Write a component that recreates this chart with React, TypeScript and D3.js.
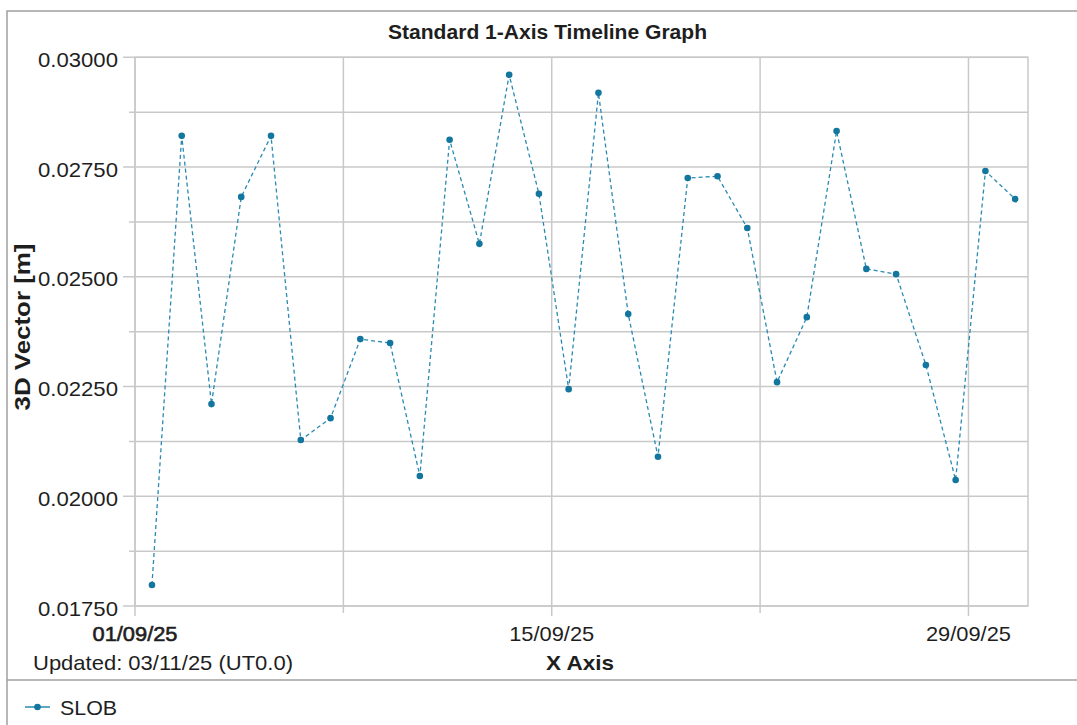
import React from "react";
import * as d3 from "d3";

const dates: string[] = [
  "2025-09-01T13:40Z", "2025-09-02T13:40Z", "2025-09-03T13:40Z", "2025-09-04T13:40Z", "2025-09-05T13:40Z",
  "2025-09-06T13:40Z", "2025-09-07T13:40Z", "2025-09-08T13:40Z", "2025-09-09T13:40Z", "2025-09-10T13:40Z",
  "2025-09-11T13:40Z", "2025-09-12T13:40Z", "2025-09-13T13:40Z", "2025-09-14T13:40Z", "2025-09-15T13:40Z",
  "2025-09-16T13:40Z", "2025-09-17T13:40Z", "2025-09-18T13:40Z", "2025-09-19T13:40Z", "2025-09-20T13:40Z",
  "2025-09-21T13:40Z", "2025-09-22T13:40Z", "2025-09-23T13:40Z", "2025-09-24T13:40Z", "2025-09-25T13:40Z",
  "2025-09-26T13:40Z", "2025-09-27T13:40Z", "2025-09-28T13:40Z", "2025-09-29T13:40Z", "2025-09-30T13:40Z",
];
const slobValues: number[] = [
  0.01798, 0.02821, 0.0221, 0.02682, 0.02821, 0.02128, 0.02178, 0.02358, 0.02349, 0.02046,
  0.02812, 0.02575, 0.0296, 0.02689, 0.02244, 0.02919, 0.02415, 0.0209, 0.02725, 0.02729,
  0.02611, 0.0226, 0.02408, 0.02832, 0.02518, 0.02506, 0.02299, 0.02037, 0.02741, 0.02677,
];
const yTicks: number[] = [0.0175, 0.01875, 0.02, 0.02125, 0.0225, 0.02375, 0.025, 0.02625, 0.0275, 0.02875, 0.03];
const yLabelTicks: number[] = [0.0175, 0.02, 0.0225, 0.025, 0.0275, 0.03];
const xTickDates: string[] = ["2025-09-01T00:00Z", "2025-09-08T00:00Z", "2025-09-15T00:00Z", "2025-09-22T00:00Z", "2025-09-29T00:00Z"];
const xLabelDates: string[] = ["2025-09-01T00:00Z", "2025-09-15T00:00Z", "2025-09-29T00:00Z"];
const xDomain: string[] = ["2025-09-01T00:00Z", "2025-10-01T00:00Z"];
const seriesName = "SLOB";
const title = "Standard 1-Axis Timeline Graph";
const yTitle = "3D Vector [m]";
const xTitle = "X Axis";
const updatedText = "Updated: 03/11/25 (UT0.0)";

const W = 1077;
const H = 725;
const left = 135, right = 1028, top = 57.3, bottom = 606;
const FONT = "'Liberation Sans', Arial, sans-serif";
const GRID = "#c9c9c9";
const LINE = "#2b8ab2";
const MARK = "#13769e";
const TXT = "#1e1e1e";

export default function App() {
  const x = d3.scaleUtc().domain(xDomain.map((d) => new Date(d))).range([left, right]);
  const y = d3.scaleLinear().domain([0.0175, 0.03]).range([bottom, top]);
  const fmtDate = d3.utcFormat("%d/%m/%y");
  const pts = dates.map((d, i) => ({ t: new Date(d), v: slobValues[i] }));
  const line = d3.line<{ t: Date; v: number }>().x((d) => x(d.t)).y((d) => y(d.v));
  const labelSet = new Set(xLabelDates);
  const yLabelSet = new Set(yLabelTicks.map((v) => v.toFixed(5)));

  return (
    <svg width={W} height={H} style={{ position: "absolute", left: 0, top: 0, background: "#fff" }} fontFamily={FONT}>
      <rect x={0} y={0} width={W} height={H} fill="#fff" />
      <rect x={7} y={11} width={W + 20} height={H + 20} fill="none" stroke="#a0a0a0" strokeWidth={1.5} />
      <line x1={7} x2={W} y1={680} y2={680} stroke="#a0a0a0" strokeWidth={1.5} />
      <text x={547.5} y={39} textAnchor="middle" fontSize={20} fontWeight="bold" fill={TXT}
        textLength={319} lengthAdjust="spacingAndGlyphs">{title}</text>
      {yTicks.map((v) => {
        const labeled = yLabelSet.has(v.toFixed(5));
        return (
          <g key={"y" + v}>
            <line x1={labeled ? 123 : 129} x2={right} y1={y(v)} y2={y(v)} stroke={GRID} strokeWidth={1.5} />
            {labeled && (
              <text x={118} y={y(v) + 9.5} textAnchor="end" fontSize={21} fill={TXT}
                textLength={80} lengthAdjust="spacingAndGlyphs">{v.toFixed(5)}</text>
            )}
          </g>
        );
      })}
      {xTickDates.map((d, i) => {
        const labeled = labelSet.has(d);
        const xx = x(new Date(d));
        return (
          <g key={"x" + d}>
            <line x1={xx} x2={xx} y1={top} y2={bottom + (labeled ? 10 : 7)} stroke={GRID} strokeWidth={1.5} />
            {labeled && (
              <text x={xx} y={641} textAnchor="middle" fontSize={21} fill={TXT}
                stroke={i === 0 ? TXT : "none"} strokeWidth={i === 0 ? 0.6 : 0}
                textLength={85} lengthAdjust="spacingAndGlyphs">
                {fmtDate(new Date(d))}
              </text>
            )}
          </g>
        );
      })}
      <rect x={left} y={top} width={right - left} height={bottom - top} fill="none" stroke={GRID} strokeWidth={1.5} />
      <path d={line(pts) || ""} fill="none" stroke={LINE} strokeWidth={1.3} strokeDasharray="4,3" />
      {pts.map((p, i) => (
        <circle key={i} cx={x(p.t)} cy={y(p.v)} r={3.3} fill={MARK} />
      ))}
      <text transform={`translate(30, 327) rotate(-90)`} textAnchor="middle" fontSize={22} fontWeight="bold" fill={TXT}
        textLength={167} lengthAdjust="spacingAndGlyphs">
        {yTitle}
      </text>
      <text x={580} y={670} textAnchor="middle" fontSize={21} fontWeight="bold" fill={TXT}
        textLength={68} lengthAdjust="spacingAndGlyphs">{xTitle}</text>
      <text x={33} y={670} fontSize={21} fill={TXT} textLength={260} lengthAdjust="spacingAndGlyphs">{updatedText}</text>
      <line x1={25} x2={50} y1={707} y2={707} stroke={LINE} strokeWidth={1.5} />
      <circle cx={37.5} cy={707} r={3.3} fill={MARK} />
      <text x={60} y={715} fontSize={21} fill={TXT} textLength={57} lengthAdjust="spacingAndGlyphs">{seriesName}</text>
    </svg>
  );
}
